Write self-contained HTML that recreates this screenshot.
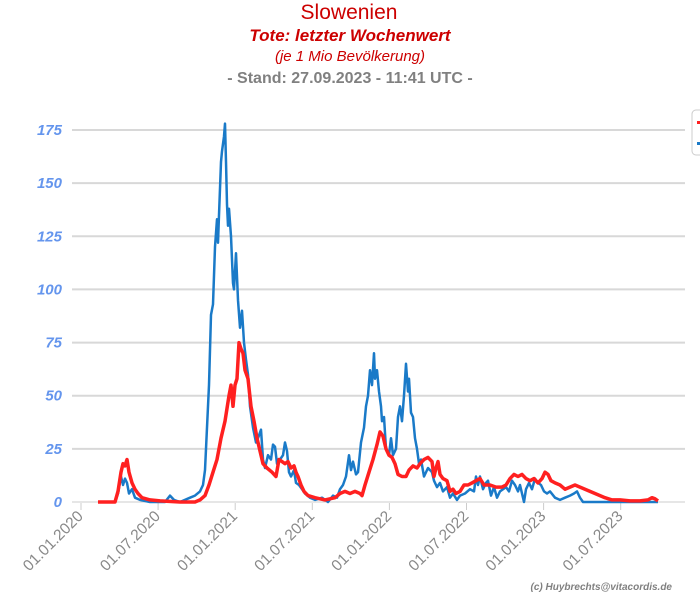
<!DOCTYPE html>
<html><head><meta charset="utf-8"><style>
body{margin:0;background:#fff;width:700px;height:600px;overflow:hidden;font-family:"Liberation Sans",sans-serif}
</style></head><body>
<svg id="s" width="700" height="600" xmlns="http://www.w3.org/2000/svg" font-family="Liberation Sans, sans-serif">
<text x="349" y="19" text-anchor="middle" font-size="21" fill="#cc0000">Slowenien</text>
<text x="350" y="41" text-anchor="middle" font-size="17" font-weight="bold" font-style="italic" fill="#cc0000">Tote: letzter Wochenwert</text>
<text x="350" y="61" text-anchor="middle" font-size="15" font-style="italic" fill="#cc0000">(je 1 Mio Bevölkerung)</text>
<text x="350" y="83" text-anchor="middle" font-size="16" font-weight="bold" fill="#808080">- Stand: 27.09.2023 - 11:41 UTC -</text>
<g id="grid"></g>
<rect x="692" y="110" width="20" height="45" rx="4" fill="#fff" stroke="#ccc"/>
<rect x="697" y="121" width="4" height="3" fill="#ff2020"/>
<rect x="697" y="142" width="4" height="3" fill="#1a7ac8"/>
<polyline id="b" fill="none" stroke="#1a7ac8" stroke-width="2.5" stroke-linejoin="round"/>
<polyline id="r" fill="none" stroke="#ff2020" stroke-width="3.5" stroke-linejoin="round"/>
<text x="672" y="590" text-anchor="end" font-size="10" font-weight="bold" font-style="italic" fill="#808080">(c) Huybrechts@vitacordis.de</text>
</svg>
<script>
var Y=function(v){return 502-v*2.1257};
var g='';
for(var v=0;v<=175;v+=25){var y=Y(v);g+='<line x1="72" x2="685" y1="'+y+'" y2="'+y+'" stroke="'+(v?'#d8d8d8':'#ccc')+'" stroke-width="'+(v?2:1)+'"/>';
g+='<text x="62" y="'+(y+5)+'" text-anchor="end" font-size="15" font-weight="bold" font-style="italic" fill="#6495ed">'+v+'</text>';}
var L=['01.01.2020','01.07.2020','01.01.2021','01.07.2021','01.01.2022','01.07.2022','01.01.2023','01.07.2023'];
for(var i=0;i<8;i++){var x=81+i*77.1;g+='<line x1="'+x+'" x2="'+x+'" y1="503" y2="510" stroke="#ccc"/>';
g+='<text transform="translate('+(x+3)+',517) rotate(-45)" text-anchor="end" font-size="15.5" fill="#888">'+L[i]+'</text>';}
document.getElementById('grid').innerHTML=g;
function P(a){var s=[];for(var i=0;i<a.length;i+=2)s.push(a[i]+','+Y(a[i+1]).toFixed(1));return s.join(' ');}
document.getElementById('b').setAttribute('points',P([98,0,115,0,118,4,121,12,123,8,125,11,127,9,129,4,132,6,135,2,140,1,150,0,165,0,170,3,174,1,180,0,190,2,195,3,200,5,203,8,205,15,207,35,209,55,211,88,213,93,215,120,217,133,218,122,219,135,221,160,222,165,224,172,225,178,226,160,227,140,228,130,229,138,231,125,233,103,234,100,236,117,238,95,240,82,242,90,244,75,246,67,248,60,250,45,253,35,256,28,258,30,261,34,263,20,265,16,268,22,271,20,273,27,275,26,277,18,280,20,283,22,285,28,287,24,289,14,291,12,294,15,296,9,299,8,302,6,305,4,310,2,315,1,322,2,328,0,333,3,337,2,340,6,343,8,346,12,349,22,351,15,353,19,356,13,358,14,361,28,364,35,366,45,368,50,370,62,372,55,374,70,375,58,377,62,379,52,381,45,382,38,384,40,386,25,389,22,391,30,393,22,396,25,398,40,400,45,402,38,404,50,406,65,408,52,409,58,411,42,413,40,415,30,417,25,419,18,421,20,424,12,428,16,432,14,434,10,437,7,440,9,443,5,447,7,450,2,453,4,457,1,460,3,465,4,470,6,474,5,476,12,478,8,480,12,483,6,486,9,488,10,491,3,494,7,497,2,500,5,503,6,506,7,509,5,512,10,515,8,518,5,520,8,522,4,524,0,526,6,529,9,532,6,535,11,538,9,541,8,544,5,547,4,550,5,555,2,560,1,565,2,570,3,574,4,577,5,580,2,583,0,658,0]));
document.getElementById('r').setAttribute('points',P([98,0,115,0,118,5,121,14,123,18,125,17,127,20,129,14,132,9,135,6,138,4,142,2,150,1,160,0.5,180,0,195,0,200,1,205,3,209,8,213,14,217,20,221,30,225,38,229,50,231,55,233,45,235,55,237,58,239,75,241,72,243,70,245,62,248,58,251,45,254,38,257,30,260,24,263,18,267,16,272,14,276,12,279,20,282,19,285,18,288,19,291,16,294,17,296,14,298,12,301,8,304,5,308,3,315,2,325,1,335,2,340,4,345,5,350,4,355,5,360,4,362,3,365,8,369,14,373,20,377,27,380,33,383,31,386,25,389,22,392,21,395,18,398,13,402,12,406,12,409,15,413,17,417,16,420,18,424,20,428,21,432,19,434,12,436,16,438,19,440,13,443,11,447,10,450,5,453,6,456,4,460,5,464,8,468,8,472,9,476,10,480,11,484,8,490,8,496,7,502,7,506,8,510,11,514,13,518,12,522,13,526,11,530,10,534,11,538,9,542,11,545,14,548,13,551,10,555,9,560,8,565,6,570,7,575,8,580,7,585,6,590,5,595,4,600,3,605,2,612,1,620,1,630,0.5,640,0.5,648,1,652,2,655,1.5,658,0.5]));
</script>
</body></html>
